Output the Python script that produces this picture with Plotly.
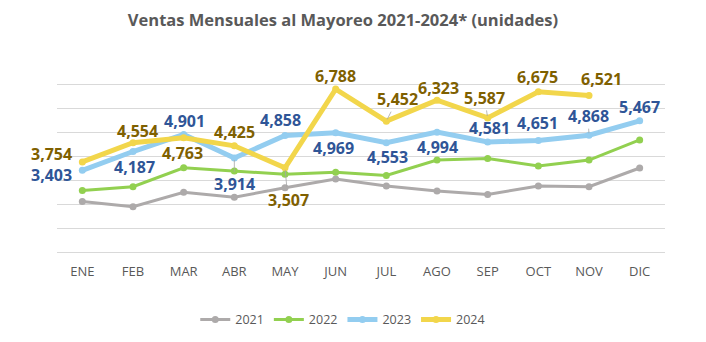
import plotly.graph_objects as go

months = ["ENE", "FEB", "MAR", "ABR", "MAY", "JUN", "JUL", "AGO", "SEP", "OCT", "NOV", "DIC"]
v2021 = [2100, 1890, 2490, 2280, 2680, 3040, 2750, 2540, 2400, 2750, 2720, 3500]
v2022 = [2560, 2720, 3510, 3380, 3240, 3320, 3190, 3830, 3900, 3580, 3830, 4670]
v2023 = [3403, 4187, 4901, 3914, 4858, 4969, 4553, 4994, 4581, 4651, 4868, 5467]
v2024 = [3754, 4554, 4763, 4425, 3507, 6788, 5452, 6323, 5587, 6675, 6521]

# label offsets in pixels (dx, dy; dy positive = down), leader flag
off2024 = [(-31, -8, 0), (4, -12, 0), (-1, 15, 0), (0, -14, 0), (3, 32, 1), (0, -13, 0),
           (11, -22, 1), (1, -12, 0), (-3, -20, 1), (-1, -15, 0), (12, -17, 0)]
off2023 = [(-31, 5, 0), (1, 15, 0), (1, -13, 0), (0, 26, 1), (-5, -15, 0), (-2, 15, 0),
           (1, 14, 0), (0, 15, 0), (2, -14, 0), (-1, -17, 0), (-1, -19, 1), (0, -14, 0)]

FONT = "Open Sans"
fig = go.Figure()
series = [
    ("2021", v2021, "#ADAAAA", 3),
    ("2022", v2022, "#92D050", 3),
    ("2023", v2023, "#93CDF0", 5),
    ("2024", v2024, "#F2D64B", 5),
]
for name, vals, col, w in series:
    fig.add_trace(go.Scatter(x=months[:len(vals)], y=vals, name=name, mode="lines+markers",
                             line=dict(color=col, width=w), marker=dict(color=col, size=7)))

def add_labels(vals, offs, color):
    for m, v, (dx, dy, lead) in zip(months, vals, offs):
        txt = f"<b>{v:,}</b>"
        if lead:
            fig.add_annotation(x=m, y=v, text=txt, showarrow=True, ax=dx, ay=dy,
                               arrowhead=0, arrowwidth=0.8, arrowcolor="#A6A6A6", standoff=2,
                               startstandoff=0,
                               font=dict(family=FONT, size=16, color=color))
        else:
            fig.add_annotation(x=m, y=v, text=txt, showarrow=False, xshift=dx, yshift=-dy,
                               font=dict(family=FONT, size=16, color=color))

add_labels(v2024, off2024, "#7F6000")
add_labels(v2023, off2023, "#2F5597")

fig.update_layout(
    width=706, height=342,
    margin=dict(l=57, r=41, t=60, b=90, autoexpand=False),
    paper_bgcolor="white", plot_bgcolor="white",
    title=dict(text="<b>Ventas Mensuales al Mayoreo 2021-2024* (unidades)</b>",
               x=343/706, xanchor="center", y=0.94, yanchor="middle",
               font=dict(family=FONT, size=16.5, color="#595959")),
    font=dict(family=FONT, color="#595959"),
    showlegend=True,
    legend=dict(orientation="h", x=0.47, xanchor="center", y=-0.354, yanchor="middle",
                font=dict(family=FONT, size=12.5, color="#595959"), itemwidth=30),
)
fig.update_xaxes(type="category", range=[-0.5, 11.5], showgrid=False, showline=False,
                 tickfont=dict(family=FONT, size=13, color="#595959"), ticks="",
                 ticklabelstandoff=10, automargin=False)
fig.update_yaxes(range=[0, 8000], dtick=1000, showgrid=True, gridcolor="#D9D9D9", gridwidth=1,
                 zeroline=True, zerolinecolor="#D9D9D9", zerolinewidth=1,
                 showticklabels=False, automargin=False)

fig.write_html("out.html")
